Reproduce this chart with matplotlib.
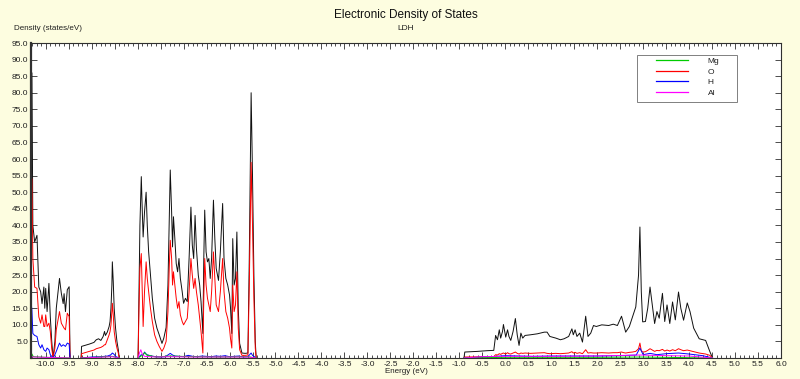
import numpy as np
import matplotlib
matplotlib.use("Agg")
import matplotlib.pyplot as plt
from matplotlib.patches import Rectangle
from matplotlib.lines import Line2D
from matplotlib.ticker import MultipleLocator, FormatStrFormatter

nan = np.nan

# total DOS and O projected DOS, regions separated by nan
energy = [-10.32, -10.30, -10.28, -10.24, -10.19, -10.15, -10.11, -10.08, -10.04, -10.02,
          -10.00, -9.97, -9.93, -9.90, -9.87, -9.84, -9.80, -9.77, -9.70, -9.66,
          -9.62, -9.60, -9.57, -9.53, -9.49, -9.47, nan,
          -9.23, -9.22, -9.15, -9.05, -8.95, -8.90, -8.85, -8.80, -8.75, -8.72,
          -8.70, -8.66, -8.62, -8.60, -8.58, -8.56, -8.55, -8.53, -8.51, -8.48,
          -8.45, -8.42, -8.40, nan,
          -7.99, -7.97, -7.95, -7.92, -7.90, -7.88, -7.85, -7.815, -7.79, -7.76,
          -7.72, -7.68, -7.63, -7.58, -7.53, -7.47, -7.43, -7.38, -7.34, -7.31,
          -7.29, -7.26, -7.24, -7.22, -7.19, -7.16, -7.13, -7.10, -7.07, -7.03,
          -7.00, -6.96, -6.92, -6.88, -6.84, -6.81, -6.78, -6.75, -6.72, -6.68,
          -6.65, -6.62, -6.58, -6.56, -6.54, -6.51, -6.48, -6.45, -6.42, -6.39,
          -6.35, -6.32, -6.29, -6.24, -6.20, -6.15, -6.12, -6.08, -6.04, -6.00,
          -5.98, -5.95, -5.93, -5.90, -5.87, -5.84, -5.81, -5.78, -5.73, -5.66,
          -5.60, -5.57, -5.53, -5.50, -5.47, -5.44, -5.42, nan,
          -0.90, -0.88, -0.60, -0.40, -0.25, -0.21, -0.17, -0.13, -0.10, -0.06,
          -0.04, 0.01, 0.05, 0.08, 0.12, 0.17, 0.22, 0.26, 0.30, 0.34,
          0.38, 0.43, 0.55, 0.70, 0.85, 0.91, 0.97, 1.10, 1.20, 1.28,
          1.38, 1.45, 1.48, 1.52, 1.56, 1.62, 1.68, 1.75, 1.80, 1.86,
          1.92, 1.98, 2.10, 2.25, 2.35, 2.44, 2.53, 2.58, 2.62, 2.70,
          2.77, 2.84, 2.90, 2.93, 2.96, 2.99, 3.05, 3.10, 3.15, 3.20,
          3.25, 3.30, 3.35, 3.42, 3.47, 3.52, 3.58, 3.64, 3.70, 3.77,
          3.82, 3.88, 3.96, 4.02, 4.10, 4.22, 4.36, 4.45, 4.51]

total = [62, 86, 40, 35, 37, 21.4, 20, 16.4, 21.4, 15,
         21, 14, 22.5, 12.4, 5.3, 0, 5, 15, 24, 19.5,
         16.4, 19.4, 14, 20.6, 21.5, 0, nan,
         0, 3.5, 3.8, 4.2, 4.7, 5.5, 5.8, 5.3, 6.5, 8,
         6.8, 7.8, 9.5, 11, 15, 22, 29, 23, 15, 9,
         5, 2.5, 0, nan,
         0, 20, 40, 54.7, 45, 36.5, 44, 50, 40, 32,
         25, 18, 12, 9, 7, 4.4, 6, 9.2, 22, 42,
         56.7, 44, 33.5, 42.6, 36, 28.5, 26, 30, 24, 20,
         16.5, 18, 17, 30, 45.5, 34, 30, 43, 33, 25,
         22, 17, 7.4, 30, 44.6, 32, 29, 30, 24, 30,
         47.6, 36, 27, 23.4, 32, 46.6, 30, 24, 22, 19,
         15.4, 7.4, 36, 22, 24, 38, 15, 4.4, 1.5, 1.4,
         1.5, 30, 80, 55, 25, 5, 0, nan,
         0, 1.8, 2.0, 2.2, 2.3, 6.8, 5.5, 8.5, 6, 8,
         10.1, 6.3, 8.5, 6.5, 5.3, 8, 11.9, 7, 3.8, 7.5,
         6, 6.8, 7, 7.3, 7.8, 7.8, 6.5, 6, 5.5, 5.8,
         6.5, 8.8, 7, 8.5, 6.5, 7.5, 4.8, 12.6, 6.5, 7.5,
         9.8, 9.5, 10, 9.8, 10.2, 9.8, 12.6, 10, 7.8, 9.5,
         12.4, 15.4, 25, 39.5, 20, 10.9, 11, 15, 21.4, 16,
         10.4, 14, 12, 19.5, 11, 16, 10.4, 16.9, 11.5, 19.9,
         15, 11.4, 16.6, 14, 9, 5.8, 5.3, 2, 0]

oxygen = [40, 54, 30, 21.4, 21, 12.4, 10.5, 13, 9.5, 9.5,
          13, 9.5, 10.5, 8, 3, 0, 3, 8.5, 14, 10.5,
          9.5, 9, 8.5, 13.5, 12.5, 0, nan,
          0, 1.3, 1.6, 2.0, 2.4, 2.8, 3.0, 3.2, 3.6, 4,
          4, 5.5, 7, 8, 10, 14, 16.5, 13, 8, 5,
          3, 1.5, 0, nan,
          0, 15, 27, 31.5, 20, 9.5, 20, 29, 24, 20,
          15, 11, 7, 5, 3.5, 2, 3, 5, 14, 28,
          35.5, 30, 22, 26, 22, 18, 15, 17, 13, 11,
          10, 11, 12, 20, 30, 25, 21, 24, 20, 16,
          12, 8, 1.5, 18, 30, 22, 18, 16, 14, 20,
          32, 24, 16, 14, 20, 30, 20, 14, 12, 9,
          6, 3, 22, 14, 16, 26, 9, 2.5, 0.8, 0.8,
          0.9, 22, 59, 40, 18, 3, 0, nan,
          0, 0.3, 0.35, 0.4, 0.4, 1.0, 0.9, 1.3, 1.1, 1.4,
          1.5, 1.2, 1.6, 1.3, 1.2, 1.5, 1.8, 1.4, 1.2, 1.5,
          1.4, 1.5, 1.4, 1.5, 1.6, 1.4, 1.3, 1.4, 1.3, 1.4,
          1.5, 1.9, 1.5, 1.7, 1.4, 1.6, 1.3, 2.5, 1.5, 1.6,
          1.5, 1.5, 1.6, 1.5, 1.6, 1.6, 1.8, 1.6, 1.5, 1.7,
          1.8, 2.0, 2.8, 4.5, 2.2, 1.8, 1.9, 2.3, 2.8, 2.4,
          2.0, 2.3, 2.2, 2.6, 2.1, 2.4, 2.1, 2.5, 2.2, 2.8,
          2.5, 2.2, 2.4, 2.2, 1.9, 1.5, 1.2, 0.8, 0]

# small projections (H, Mg, Al)
h_energy = [-10.32, -10.30, -10.28, -10.24, -10.19, -10.15, -10.11, -10.08, -10.04, -10.00,
            -9.97, -9.93, -9.90, -9.87, -9.84, -9.80, -9.77, -9.70, -9.66, -9.62,
            -9.57, -9.53, -9.49, -9.47, nan,
            -9.23, -9.0, -8.8, -8.65, -8.58, -8.55, -8.52, -8.47, -8.40, nan,
            -7.99, -7.95, -7.92, -7.88, -7.85, -7.80, -7.70, -7.60, -7.50, -7.40,
            -7.33, -7.29, -7.25, -7.20, -7.10, -7.00, -6.90, -6.80, -6.70, -6.60,
            -6.50, -6.40, -6.30, -6.20, -6.10, -6.00, -5.90, -5.80, -5.70, -5.60,
            -5.53, -5.50, -5.42, nan,
            -0.90, -0.50, -0.20, 0.00, 0.30, 0.60, 1.00, 1.50, 2.00, 2.50,
            2.85, 2.93, 3.00, 3.15, 3.30, 3.50, 3.77, 4.00, 4.30, 4.51]
h_dos = [17, 14.5, 7.4, 6.8, 6.5, 4, 3, 4, 2.5, 2,
         3, 2.5, 1, 0.5, 0, 1, 2, 4.5, 3.5, 4,
         3.5, 4.5, 4.2, 0, nan,
         0, 0.3, 0.4, 0.6, 1.0, 1.5, 1.2, 0.4, 0, nan,
         0, 0.6, 1.0, 0.8, 1.8, 1.0, 0.6, 0.4, 0.3, 0.4,
         1.0, 1.4, 1.0, 0.6, 0.5, 0.4, 0.8, 0.5, 0.4, 0.6,
         0.5, 0.4, 0.6, 0.5, 0.7, 0.4, 0.5, 0.6, 0.3, 0.4,
         1.5, 0.8, 0, nan,
         0, 0.3, 0.5, 0.7, 0.6, 0.5, 0.6, 0.6, 0.6, 0.7,
         0.9, 3.0, 1.0, 1.4, 1.0, 1.3, 1.5, 1.2, 0.7, 0]

mg_energy = [-10.32, -10.30, -10.27, -10.0, -9.47, nan,
             -9.23, -8.55, -8.40, nan,
             -7.99, -7.90, -7.85, -7.80, -7.60, -7.30, -6.80, -6.20, -5.60, -5.42, nan,
             -0.90, 0.0, 1.0, 2.0, 2.93, 3.5, 4.51]
mg_dos = [1.5, 1.2, 0.4, 0.2, 0, nan,
          0, 0.5, 0, nan,
          0, 0.8, 1.6, 0.9, 0.3, 0.6, 0.4, 0.3, 0.4, 0, nan,
          0, 0.2, 0.2, 0.2, 0.3, 0.2, 0]

al_energy = [-10.32, -10.28, -10.0, -9.47, nan,
             -9.23, -8.55, -8.40, nan,
             -7.99, -7.96, -7.93, -7.90, -7.85, -7.60, -7.30, -6.80, -6.20, -5.60, -5.42, nan,
             -0.90, -0.5, 0.0, 1.0, 2.0, 2.93, 3.5, 4.0, 4.51]
al_dos = [0.6, 0.3, 0.2, 0, nan,
          0, 0.4, 0, nan,
          0, 1.5, 2.5, 1.2, 0.5, 0.3, 0.4, 0.3, 0.3, 0.3, 0, nan,
          0, 0.4, 0.5, 0.5, 0.6, 0.9, 0.7, 0.6, 0]

species = ['Mg', 'O', 'H', 'Al']
colors = ['#00cc00', '#ff0000', '#0000ff', '#ff00ff']

plt.rcParams['font.family'] = ['Liberation Sans', 'DejaVu Sans']
bg = '#fdfde0'
txt = '#202020'
W, H = 800, 379

fig = plt.figure(figsize=(8, 3.79), dpi=100, facecolor=bg)
ax = fig.add_axes([31 / W, 1 - 358 / H, 750 / W, 315 / H])
ax.set_facecolor('white')

lw = 0.7
ax.plot(energy, total, color='#101010', lw=lw)
ax.plot(energy, oxygen, color=colors[1], lw=lw)
ax.plot(h_energy, h_dos, color=colors[2], lw=lw)
ax.plot(mg_energy, mg_dos, color=colors[0], lw=lw)
ax.plot(al_energy, al_dos, color=colors[3], lw=lw)

ax.set_xlim(-10.32, 6.0)
ax.set_ylim(0, 95)
ax.xaxis.set_major_locator(MultipleLocator(0.5))
ax.xaxis.set_minor_locator(MultipleLocator(0.1))
ax.xaxis.set_major_formatter(FormatStrFormatter('%.1f'))
ax.set_yticks(np.arange(5, 96, 5))
ax.yaxis.set_major_formatter(FormatStrFormatter('%.1f'))
ax.tick_params(axis='both', which='both', direction='in', top=True, right=True,
               labelsize=6, labelcolor=txt, color='#303030', width=0.6)
ax.tick_params(axis='both', which='major', length=4, pad=2)
ax.tick_params(axis='x', which='minor', length=2)
for s in ax.spines.values():
    s.set_color('#303030')
    s.set_linewidth(0.8)
ax.spines['left'].set_linewidth(1.6)

# legend box drawn separately, entries placed inside it
box = Rectangle((637 / W, 1 - 102 / H), 100 / W, 47 / H, transform=fig.transFigure,
                facecolor='white', edgecolor='#808080', lw=0.7, zorder=4)
ax.add_patch(box)
box.set_clip_on(False)
handles = [Line2D([], [], color=c, lw=0.9) for c in colors]
leg = ax.legend(handles, species, loc='upper left',
                bbox_to_anchor=(656 / W, 1 - 57 / H), bbox_transform=fig.transFigure,
                borderaxespad=0, borderpad=0, frameon=False, fontsize=6,
                handlelength=3.8, handletextpad=2.4, labelspacing=0.35)
for t in leg.get_texts():
    t.set_color(txt)
leg.set_zorder(5)

fig.text(406 / W, 1 - 15 / H, 'Electronic Density of States', ha='center', va='center',
         fontsize=8.5, color='#101010')
fig.text(406 / W, 1 - 28 / H, 'LDH', ha='center', va='center', fontsize=6, color=txt)
fig.text(14 / W, 1 - 29 / H, 'Density (states/eV)', ha='left', va='center',
         fontsize=5.8, color=txt)
fig.text(406 / W, 1 - 368 / H, 'Energy (eV)', ha='center', va='top',
         fontsize=5.8, color=txt)

fig.savefig('out.png', dpi=100, facecolor=bg)
